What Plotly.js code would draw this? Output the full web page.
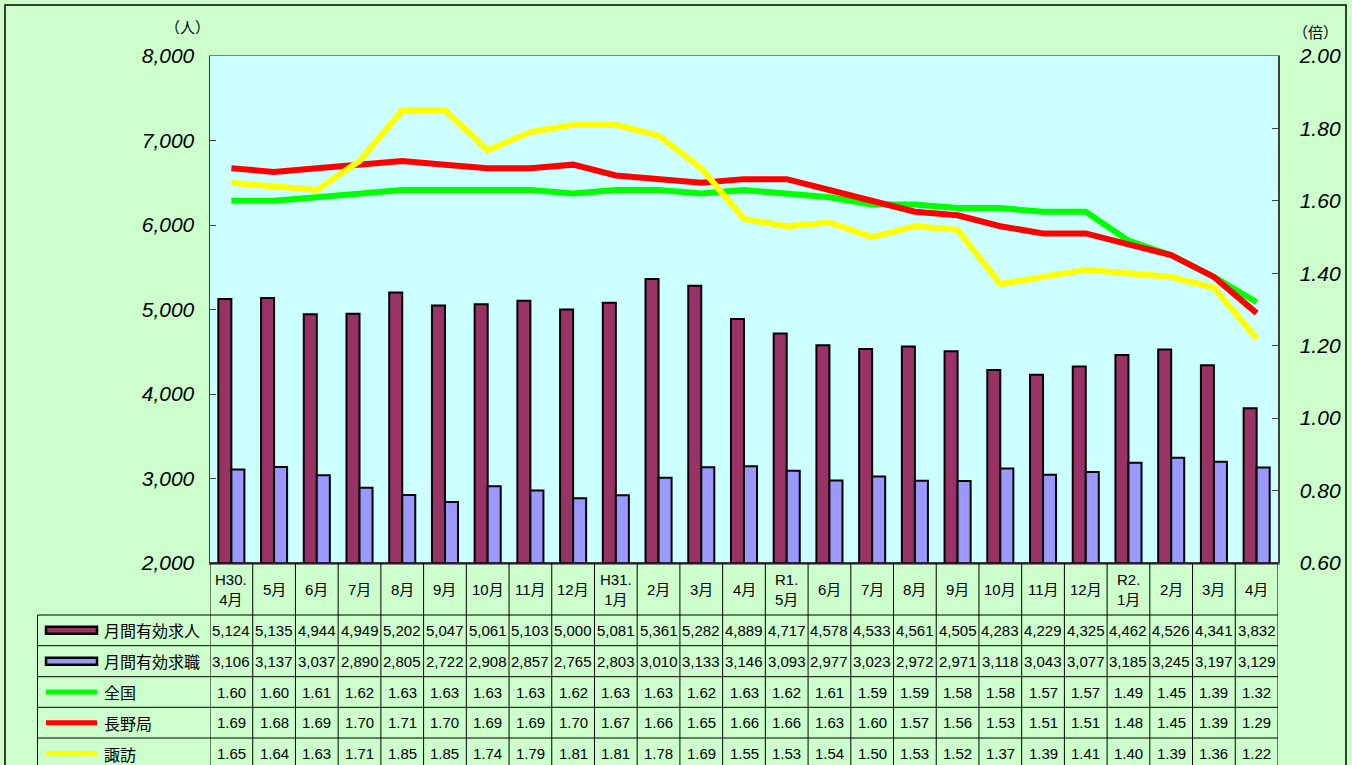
<!DOCTYPE html>
<html><head><meta charset="utf-8">
<script src="https://cdn.plot.ly/plotly-3.0.1.min.js"></script>
<style>html,body{margin:0;padding:0;background:#CCFFCC;}#chart{width:1352px;height:765px;}</style>
</head><body><div id="chart"></div>
<script>
const labels = ["H30.<br>4月","5月","6月","7月","8月","9月","10月","11月","12月","H31.<br>1月","2月","3月","4月","R1.<br>5月","6月","7月","8月","9月","10月","11月","12月","R2.<br>1月","2月","3月","4月"];
const kyujin = [5124,5135,4944,4949,5202,5047,5061,5103,5000,5081,5361,5282,4889,4717,4578,4533,4561,4505,4283,4229,4325,4462,4526,4341,3832];
const kyushoku = [3106,3137,3037,2890,2805,2722,2908,2857,2765,2803,3010,3133,3146,3093,2977,3023,2972,2971,3118,3043,3077,3185,3245,3197,3129];
const zenkoku = [1.60,1.60,1.61,1.62,1.63,1.63,1.63,1.63,1.62,1.63,1.63,1.62,1.63,1.62,1.61,1.59,1.59,1.58,1.58,1.57,1.57,1.49,1.45,1.39,1.32];
const naganoKyoku = [1.69,1.68,1.69,1.70,1.71,1.70,1.69,1.69,1.70,1.67,1.66,1.65,1.66,1.66,1.63,1.60,1.57,1.56,1.53,1.51,1.51,1.48,1.45,1.39,1.29];
const suwa = [1.65,1.64,1.63,1.71,1.85,1.85,1.74,1.79,1.81,1.81,1.78,1.69,1.55,1.53,1.54,1.50,1.53,1.52,1.37,1.39,1.41,1.40,1.39,1.36,1.22];
const seriesNames = ["月間有効求人","月間有効求職","全国","長野局","諏訪"];
</script>
<script>
const N = labels.length;
const idx = Array.from({length:N},(_,i)=>i);
const PL=210, PR=1278, PT=56, PB=563;
const px = X => (X-PL)/(PR-PL);
const py = Y => (PB-Y)/(PB-PT);

const traces = [
  {type:'bar', x:idx, y:kyujin, name:seriesNames[0], marker:{color:'#993366', line:{color:'#000', width:2}}, yaxis:'y'},
  {type:'bar', x:idx, y:kyushoku, name:seriesNames[1], marker:{color:'#9999FF', line:{color:'#000', width:2}}, yaxis:'y'},
  {type:'scatter', mode:'lines', x:idx, y:zenkoku, name:seriesNames[2], line:{color:'#00FF00', width:6}, yaxis:'y2'},
  {type:'scatter', mode:'lines', x:idx, y:naganoKyoku, name:seriesNames[3], line:{color:'#FF0000', width:6}, yaxis:'y2'},
  {type:'scatter', mode:'lines', x:idx, y:suwa, name:seriesNames[4], line:{color:'#FFFF00', width:6}, yaxis:'y2'}
];

const shapes = [];
const annotations = [];
const tfont = {family:'Liberation Sans, Arial, Noto Sans CJK JP', size:15, color:'#000'};
const jfont = {family:'Liberation Sans, Noto Sans CJK JP', size:15, color:'#000'};

// outer frame
shapes.push({type:'rect', xref:'paper', yref:'paper', x0:px(5), x1:px(1346), y0:py(5), y1:py(790), line:{color:'#000', width:1.5}, fillcolor:'rgba(0,0,0,0)', layer:'below'});

// table verticals
for (let k=0;k<=N;k++){
  shapes.push({type:'line', xref:'x', yref:'paper', x0:k-0.5, x1:k-0.5, y0:py(563), y1:py(780), line:{color:'#000', width:1}});
}
shapes.push({type:'line', xref:'paper', yref:'paper', x0:px(37.5), x1:px(37.5), y0:py(615), y1:py(780), line:{color:'#000', width:1}});
shapes.push({type:'line', xref:'paper', yref:'paper', x0:px(210), x1:px(1278), y0:py(563), y1:py(563), line:{color:'#000', width:1.5}});
const rowLines = [615, 645.7, 676.7, 707.3, 738];
rowLines.forEach(Y=>shapes.push({type:'line', xref:'paper', yref:'paper', x0:px(37.5), x1:px(1278), y0:py(Y), y1:py(Y), line:{color:'#000', width:1}}));

// header labels
labels.forEach((t,i)=>annotations.push({xref:'x', yref:'paper', x:i, y:py(589), text:t, showarrow:false, font:jfont, xanchor:'center', yanchor:'middle'}));

const rowCenters = [630.3, 661.2, 692, 722.7, 753.5];
const fmtInt = v => v.toLocaleString('en-US');
const fmtR = v => v.toFixed(2);
const rows = [[kyujin,fmtInt],[kyushoku,fmtInt],[zenkoku,fmtR],[naganoKyoku,fmtR],[suwa,fmtR]];
rows.forEach((r,ri)=>{
  r[0].forEach((v,i)=>annotations.push({xref:'x', yref:'paper', x:i, y:py(rowCenters[ri]), text:r[1](v), showarrow:false, font:tfont, xanchor:'center', yanchor:'middle'}));
  annotations.push({xref:'paper', yref:'paper', x:px(102), y:py(rowCenters[ri]), text:seriesNames[ri], showarrow:false, font:{family:'Noto Sans CJK JP', size:16, color:'#000'}, xanchor:'left', yanchor:'middle'});
});
const barCols = ['#993366','#9999FF'];
barCols.forEach((c,ri)=>shapes.push({type:'rect', xref:'paper', yref:'paper', x0:px(46), x1:px(97), y0:py(rowCenters[ri]-3.5), y1:py(rowCenters[ri]+3.5), fillcolor:c, line:{color:'#000', width:2.5}}));
const lineCols = ['#00FF00','#FF0000','#FFFF00'];
lineCols.forEach((c,k)=>shapes.push({type:'line', xref:'paper', yref:'paper', x0:px(46), x1:px(97), y0:py(rowCenters[k+2]), y1:py(rowCenters[k+2]), line:{color:c, width:5}}));

annotations.push({xref:'paper', yref:'paper', x:px(187), y:py(27), text:'（人）', showarrow:false, font:{family:'Noto Sans CJK JP', size:15, color:'#000'}, xanchor:'center', yanchor:'middle'});
annotations.push({xref:'paper', yref:'paper', x:px(1315), y:py(32), text:'（倍）', showarrow:false, font:{family:'Noto Sans CJK JP', size:15, color:'#000'}, xanchor:'center', yanchor:'middle'});

const axFont = {family:'Liberation Sans, Arial', size:21, color:'#000', style:'italic'};
const layout = {
  width:1352, height:765,
  margin:{l:PL, r:1352-PR, t:PT, b:765-PB, pad:0},
  paper_bgcolor:'#CCFFCC', plot_bgcolor:'#CCFFFF',
  showlegend:false,
  barmode:'group', bargap:0.39, bargroupgap:0,
  xaxis:{range:[-0.5,N-0.5], showticklabels:false, ticks:'', showgrid:false, zeroline:false, showline:true, mirror:true, linecolor:'#808080', linewidth:1.5, fixedrange:true},
  yaxis:{range:[2000,8000], dtick:1000, tickformat:',d', tickfont:axFont, ticks:'inside', ticklen:6, tickcolor:'#404040', showgrid:false, zeroline:false, showline:true, linecolor:'#404040', linewidth:1.5, ticklabelstandoff:10},
  yaxis2:{range:[0.6,2.0], dtick:0.2, tickformat:'.2f', tickfont:axFont, overlaying:'y', side:'right', ticks:'inside', ticklen:6, tickcolor:'#404040', showgrid:false, zeroline:false, showline:true, linecolor:'#404040', linewidth:1.5, ticklabelstandoff:16},
  shapes:shapes, annotations:annotations
};
Plotly.newPlot('chart', traces, layout, {displayModeBar:false, staticPlot:true});
</script>
</body></html>
